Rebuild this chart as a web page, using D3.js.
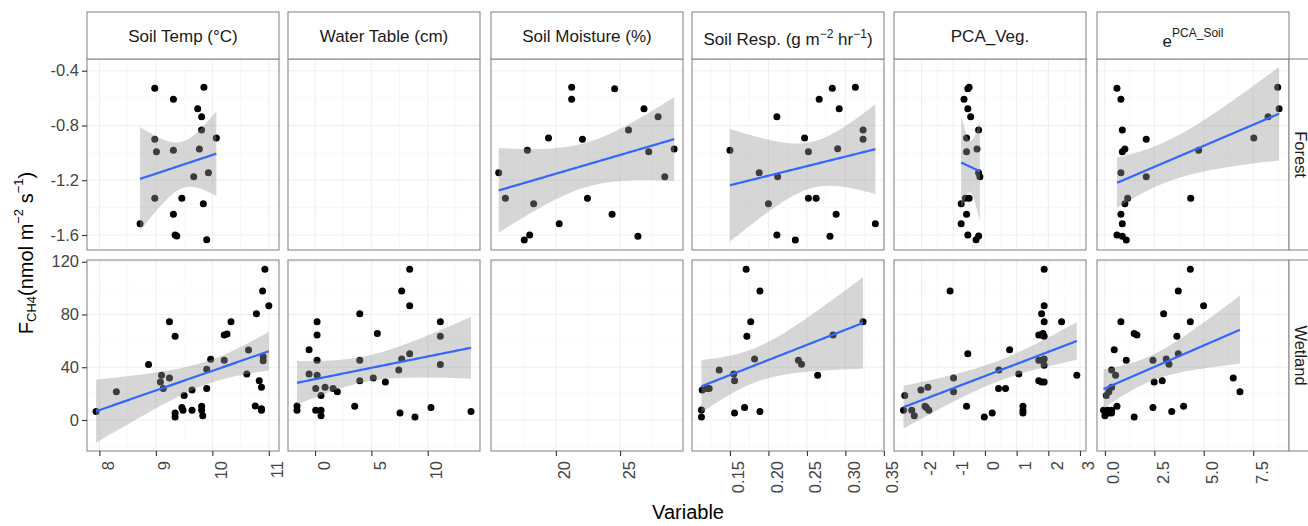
<!DOCTYPE html>
<html>
<head>
<meta charset="utf-8">
<title>CH4 flux by variable</title>
<script src="https://d3js.org/d3.v7.min.js"></script>
<style>
  body { margin: 0; background: #fff; }
  text { font-family: Arial, "Liberation Sans", sans-serif; }
</style>
</head>
<body>
<div id="chart"></div>
<script>

// ---- data: [x, F_CH4] ----
var forestSoilTemp = [[8.98,-0.529],[9.85,-0.521],[9.31,-0.609],[9.74,-0.678],[9.81,-0.736],[9.81,-0.833],[10.07,-0.892],[8.98,-0.901],[9.01,-0.992],[9.31,-0.981],[9.77,-0.972],[9.67,-1.174],[9.93,-1.145],[8.98,-1.332],[9.46,-1.332],[9.84,-1.371],[9.31,-1.449],[8.72,-1.518],[9.34,-1.600],[9.37,-1.607],[9.90,-1.634]];
var forestSoilMoisture = [[21.23,-0.521],[21.23,-0.609],[24.58,-0.531],[26.86,-0.678],[27.96,-0.736],[25.66,-0.833],[19.43,-0.892],[22.07,-0.901],[17.78,-0.981],[27.23,-0.992],[29.21,-0.972],[15.55,-1.145],[28.48,-1.174],[16.07,-1.332],[18.27,-1.371],[22.46,-1.332],[20.26,-1.518],[24.38,-1.449],[17.96,-1.600],[17.54,-1.637],[26.39,-1.610]];
var forestSoilResp = [[0.283,-0.529],[0.313,-0.521],[0.266,-0.609],[0.292,-0.678],[0.211,-0.736],[0.323,-0.833],[0.323,-0.901],[0.247,-0.892],[0.252,-0.992],[0.290,-0.970],[0.150,-0.981],[0.188,-1.145],[0.212,-1.174],[0.200,-1.371],[0.252,-1.332],[0.262,-1.332],[0.288,-1.449],[0.339,-1.518],[0.211,-1.600],[0.235,-1.637],[0.280,-1.610]];
var forestPcaVeg = [[-0.50,-0.521],[-0.54,-0.531],[-0.66,-0.609],[-0.54,-0.678],[-0.45,-0.736],[-0.20,-0.833],[-0.58,-0.892],[-0.58,-0.992],[-0.25,-0.972],[-0.20,-1.145],[-0.16,-1.174],[-0.62,-1.332],[-0.50,-1.332],[-0.75,-1.371],[-0.58,-1.449],[-0.75,-1.518],[-0.54,-1.600],[-0.28,-1.634],[-0.20,-1.607]];
var forestPcaSoil = [[0.61,-0.529],[0.81,-0.609],[8.74,-0.521],[8.81,-0.678],[8.25,-0.736],[0.88,-0.833],[2.09,-0.901],[7.53,-0.892],[1.01,-0.972],[0.88,-0.992],[4.74,-0.981],[0.81,-1.145],[2.09,-1.174],[1.15,-1.332],[1.01,-1.371],[4.34,-1.332],[0.81,-1.449],[0.88,-1.518],[0.61,-1.600],[0.88,-1.610],[1.08,-1.637]];

var wetlandSoilTemp = [[10.93,114.2],[10.89,97.8],[11.0,86.7],[10.78,80.6],[9.24,74.5],[10.33,74.5],[9.34,63.5],[10.21,64.5],[10.26,65.2],[8.87,42.0],[10.64,53.1],[9.97,46.1],[10.21,45.3],[10.90,48.0],[10.90,45.0],[9.10,33.9],[9.24,31.9],[9.08,28.9],[9.90,38.5],[9.13,23.8],[10.61,34.9],[10.83,29.8],[10.87,24.8],[8.30,21.5],[9.64,22.8],[9.90,23.8],[9.50,18.5],[7.94,6.4],[9.46,9.4],[9.48,7.4],[9.64,7.4],[9.81,10.5],[9.81,7.4],[9.83,3.3],[9.34,5.4],[9.34,2.3],[10.76,10.7],[10.87,8.6],[10.87,7.4]];
var wetlandWaterTable = [[8.40,114.2],[7.69,97.8],[8.40,86.7],[3.97,80.6],[0.18,74.5],[11.12,74.5],[0.18,64.5],[5.53,65.5],[11.12,63.5],[-0.53,53.3],[0.18,45.3],[3.97,45.3],[7.69,46.3],[8.40,50.3],[11.12,42.0],[-0.53,34.9],[0.18,33.9],[7.43,38.0],[3.97,29.8],[5.17,31.9],[6.24,28.9],[0.06,23.8],[0.89,24.8],[1.60,23.8],[1.98,21.5],[0.53,18.5],[-1.60,10.7],[-1.60,7.4],[0.06,7.4],[0.53,7.4],[0.53,3.3],[3.52,10.5],[7.54,5.4],[8.87,2.3],[10.29,9.4],[13.84,6.4]];
var wetlandSoilResp = [[0.171,114.2],[0.189,97.8],[0.177,74.5],[0.172,63.5],[0.323,74.5],[0.284,64.5],[0.182,46.3],[0.239,45.3],[0.243,42.3],[0.136,38.0],[0.155,34.9],[0.156,29.8],[0.264,33.9],[0.114,22.8],[0.120,23.8],[0.123,23.8],[0.113,7.6],[0.113,2.3],[0.169,9.4],[0.156,5.4],[0.189,6.4]];
var wetlandPcaVeg = [[1.87,114.2],[-1.10,97.8],[1.87,86.7],[1.79,80.6],[1.87,74.5],[2.42,74.5],[1.70,64.5],[1.79,64.5],[1.87,63.5],[1.83,65.5],[0.78,53.3],[-0.54,50.3],[1.70,45.3],[1.79,45.3],[1.87,46.3],[1.87,41.5],[0.44,38.0],[1.07,34.9],[2.90,33.9],[-0.99,31.9],[-0.99,21.5],[1.70,29.8],[1.79,28.8],[1.87,28.8],[0.43,23.8],[0.65,23.8],[-1.80,24.8],[-2.02,22.8],[-2.53,18.5],[-0.58,10.5],[1.20,10.5],[1.20,7.4],[1.20,5.4],[0.23,5.4],[-0.02,2.3],[-2.57,7.4],[-2.31,7.4],[-2.23,3.3],[-1.89,10.5],[-1.77,7.4],[-1.85,9.4]];
var wetlandPcaSoil = [[4.32,114.2],[3.71,97.8],[4.99,86.7],[2.97,80.6],[4.32,74.5],[0.81,74.5],[1.48,65.5],[1.62,64.5],[3.64,63.5],[0.47,53.3],[1.08,45.3],[2.43,45.3],[3.10,46.3],[3.24,42.3],[3.71,50.3],[0.34,38.0],[0.54,34.0],[6.49,31.9],[2.49,28.9],[2.90,29.8],[6.83,21.5],[0.34,24.8],[0.20,21.5],[0.07,18.5],[0.61,10.5],[0.34,7.4],[0.14,7.4],[-0.07,7.4],[0.00,3.3],[0.34,5.4],[0.20,5.4],[1.48,2.3],[2.43,9.4],[3.38,6.4],[3.98,10.5]];

// facet layout: rows = site, columns = variable (null = no data)
var sites = ["Forest", "Wetland"];
var panelData = [
  [forestSoilTemp, null, forestSoilMoisture, forestSoilResp, forestPcaVeg, forestPcaSoil],
  [wetlandSoilTemp, wetlandWaterTable, null, wetlandSoilResp, wetlandPcaVeg, wetlandPcaSoil]
];

// strip labels as text pieces (sup = superscript)
var stripLabels = [
  [{t: "Soil Temp (°C)"}],
  [{t: "Water Table (cm)"}],
  [{t: "Soil Moisture (%)"}],
  [{t: "Soil Resp. (g m"}, {t: "\u22122", sup: 1}, {t: " hr"}, {t: "\u22121", sup: 1}, {t: ")"}],
  [{t: "PCA_Veg."}],
  [{t: "e"}, {t: "PCA_Soil", sup: 1}]
];

var xTicks = [[8, 9, 10, 11], [0, 5, 10], [20, 25], [0.15, 0.20, 0.25, 0.30, 0.35], [-2, -1, 0, 1, 2, 3], [0, 2.5, 5, 7.5]];
var xTickLabels = [["8", "9", "10", "11"], ["0", "5", "10"], ["20", "25"], ["0.15", "0.20", "0.25", "0.30", "0.35"], ["-2", "-1", "0", "1", "2", "3"], ["0.0", "2.5", "5.0", "7.5"]];
var yTicks = [[-0.4, -0.8, -1.2, -1.6], [0, 40, 80, 120]];
var yTickLabels = [["-0.4", "-0.8", "-1.2", "-1.6"], ["0", "40", "80", "120"]];

// scale ranges as shown in the figure
var xDomains = [[7.78, 11.18], [-2.4, 14.64], [14.95, 29.9], [0.1007, 0.3502], [-2.87, 3.19], [-0.40, 9.31]];
var yDomains = [[-1.7096, -0.3145], [-23.5, 121.3]];

// ---- layout ----
var W = 1308, H = 526;
var colLeft = [87, 288, 491, 692, 894, 1097];
var panelW = 192;
var rowTop = [59, 260];
var panelH = 191;
var stripTop = 12;

var svg = d3.select("#chart").append("svg")
  .attr("width", W).attr("height", H);

var borderCol = "#8a8a8a";

// t quantile (0.975), Cornish-Fisher expansion
function tq(df) {
  var z = 1.959964;
  var g1 = (Math.pow(z, 3) + z) / 4;
  var g2 = (5 * Math.pow(z, 5) + 16 * Math.pow(z, 3) + 3 * z) / 96;
  var g3 = (3 * Math.pow(z, 7) + 19 * Math.pow(z, 5) + 17 * Math.pow(z, 3) - 15 * z) / 384;
  return z + g1 / df + g2 / (df * df) + g3 / (df * df * df);
}

// lm fit with 95% confidence band, like geom_smooth(method = "lm")
function lmBand(pts) {
  var n = pts.length;
  var mx = d3.mean(pts, function(d) { return d[0]; });
  var my = d3.mean(pts, function(d) { return d[1]; });
  var sxx = 0, sxy = 0;
  pts.forEach(function(d) { sxx += (d[0] - mx) * (d[0] - mx); sxy += (d[0] - mx) * (d[1] - my); });
  var b = sxy / sxx, a = my - b * mx;
  var sse = 0;
  pts.forEach(function(d) { var r = d[1] - a - b * d[0]; sse += r * r; });
  var s = Math.sqrt(sse / (n - 2));
  var t = tq(n - 2);
  var ext = d3.extent(pts, function(d) { return d[0]; });
  return d3.range(80).map(function(i) {
    var x = ext[0] + i * (ext[1] - ext[0]) / 79;
    var f = a + b * x;
    var se = s * Math.sqrt(1 / n + (x - mx) * (x - mx) / sxx);
    return {x: x, fit: f, lo: f - t * se, hi: f + t * se};
  });
}

function minorBreaks(major, dom) {
  var step = major[1] - major[0];
  var out = [];
  for (var i = -1; i < major.length; i++) {
    var m = major[0] + (i + 0.5) * step;
    if (m > dom[0] && m < dom[1]) out.push(m);
  }
  return out;
}

// add text pieces with superscripts into a <text>
function richText(sel, pieces, fs, supFs, raise) {
  var shift = 0;
  pieces.forEach(function(p) {
    var want = p.sup ? -raise : 0;
    sel.append("tspan")
      .attr("dy", want - shift)
      .style("font-size", (p.sup ? supFs : fs) + "px")
      .text(p.t);
    shift = want;
  });
}

var xScales = xDomains.map(function(dom, c) {
  return d3.scaleLinear().domain(dom).range([colLeft[c], colLeft[c] + panelW]);
});
var yScales = yDomains.map(function(dom, r) {
  return d3.scaleLinear().domain(dom).range([rowTop[r] + panelH, rowTop[r]]);
});

// ---- panels ----
panelData.forEach(function(rowData, r) {
  rowData.forEach(function(pts, c) {
    var x = xScales[c], y = yScales[r];
    var g = svg.append("g");
    g.append("rect")
      .attr("x", colLeft[c]).attr("y", rowTop[r])
      .attr("width", panelW).attr("height", panelH)
      .attr("fill", "#fff");

    // grid
    minorBreaks(xTicks[c], xDomains[c]).forEach(function(v) {
      g.append("line").attr("x1", x(v)).attr("x2", x(v))
        .attr("y1", rowTop[r]).attr("y2", rowTop[r] + panelH)
        .attr("stroke", "#f5f5f5").attr("stroke-width", 0.7);
    });
    minorBreaks(yTicks[r].slice().sort(d3.ascending), yDomains[r]).forEach(function(v) {
      g.append("line").attr("y1", y(v)).attr("y2", y(v))
        .attr("x1", colLeft[c]).attr("x2", colLeft[c] + panelW)
        .attr("stroke", "#f5f5f5").attr("stroke-width", 0.7);
    });
    xTicks[c].forEach(function(v) {
      g.append("line").attr("x1", x(v)).attr("x2", x(v))
        .attr("y1", rowTop[r]).attr("y2", rowTop[r] + panelH)
        .attr("stroke", "#efefef").attr("stroke-width", 1.1);
    });
    yTicks[r].forEach(function(v) {
      g.append("line").attr("y1", y(v)).attr("y2", y(v))
        .attr("x1", colLeft[c]).attr("x2", colLeft[c] + panelW)
        .attr("stroke", "#efefef").attr("stroke-width", 1.1);
    });

    if (pts) {
      g.selectAll("circle").data(pts).enter().append("circle")
        .attr("cx", function(d) { return x(d[0]); })
        .attr("cy", function(d) { return y(d[1]); })
        .attr("r", 3.5)
        .attr("fill", "#000");

      var band = lmBand(pts);
      g.append("path").datum(band)
        .attr("d", d3.area()
          .x(function(d) { return x(d.x); })
          .y0(function(d) { return y(d.lo); })
          .y1(function(d) { return y(d.hi); }))
        .attr("fill", "#999999").attr("fill-opacity", 0.4);
      g.append("path").datum(band)
        .attr("d", d3.line()
          .x(function(d) { return x(d.x); })
          .y(function(d) { return y(d.fit); }))
        .attr("fill", "none").attr("stroke", "#3366FF").attr("stroke-width", 2.2);
    }

    g.append("rect")
      .attr("x", colLeft[c]).attr("y", rowTop[r])
      .attr("width", panelW).attr("height", panelH)
      .attr("fill", "none").attr("stroke", borderCol).attr("stroke-width", 1.1);
  });
});

// ---- strips ----
stripLabels.forEach(function(pieces, c) {
  svg.append("rect")
    .attr("x", colLeft[c]).attr("y", stripTop)
    .attr("width", panelW).attr("height", rowTop[0] - stripTop)
    .attr("fill", "#fff").attr("stroke", borderCol).attr("stroke-width", 1.1);
  var hasSup = pieces.some(function(p) { return p.sup; });
  var t = svg.append("text")
    .attr("x", colLeft[c] + panelW / 2)
    .attr("y", c === 5 ? 46.5 : (hasSup ? 44.5 : 41.5))
    .attr("text-anchor", "middle")
    .attr("fill", "#1a1a1a");
  richText(t, pieces, 17, 12, c === 5 ? 10 : 6.5);
});

sites.forEach(function(s, r) {
  svg.append("rect")
    .attr("x", colLeft[5] + panelW).attr("y", rowTop[r])
    .attr("width", 26).attr("height", panelH)
    .attr("fill", "#fff").attr("stroke", borderCol).attr("stroke-width", 1.1);
  svg.append("text")
    .attr("transform", "translate(1294.5," + (rowTop[r] + panelH / 2) + ") rotate(90)")
    .attr("text-anchor", "middle")
    .attr("fill", "#1a1a1a")
    .style("font-size", "16.5px")
    .text(s);
});

// ---- axes ----
yScales.forEach(function(y, r) {
  var ax = svg.append("g")
    .attr("transform", "translate(" + colLeft[0] + ",0)")
    .call(d3.axisLeft(y).tickValues(yTicks[r])
      .tickFormat(function(d, i) { return yTickLabels[r][i]; })
      .tickSize(5).tickPadding(3));
  ax.select(".domain").remove();
  ax.selectAll("line").attr("stroke", "#333").attr("stroke-width", 1.1);
  ax.selectAll("text").attr("fill", "#444")
    .style("font-size", "16.5px").style("font-family", "Arial, 'Liberation Sans', sans-serif");
});

xScales.forEach(function(x, c) {
  var ax = svg.append("g")
    .attr("transform", "translate(0," + (rowTop[1] + panelH) + ")")
    .call(d3.axisBottom(x).tickValues(xTicks[c])
      .tickFormat(function(d, i) { return xTickLabels[c][i]; })
      .tickSize(5));
  ax.select(".domain").remove();
  ax.selectAll("line").attr("stroke", "#333").attr("stroke-width", 1.1);
  ax.selectAll("text")
    .attr("x", null).attr("y", null).attr("dy", null)
    .attr("transform", "translate(14,10) rotate(-90)")
    .attr("text-anchor", "end")
    .attr("fill", "#444")
    .style("font-size", "16.5px").style("font-family", "Arial, 'Liberation Sans', sans-serif");
});

// ---- axis titles ----
svg.append("text")
  .attr("x", (colLeft[0] + colLeft[5] + panelW) / 2)
  .attr("y", 519)
  .attr("text-anchor", "middle")
  .style("font-size", "20px")
  .attr("fill", "#000")
  .text("Variable");

var yt = svg.append("text")
  .attr("transform", "translate(33,253) rotate(-90)")
  .attr("text-anchor", "middle")
  .attr("fill", "#000")
  .style("font-size", "20px");
yt.append("tspan").text("F");
yt.append("tspan").attr("dy", 3).style("font-size", "13px").text("CH4");
yt.append("tspan").attr("dy", -3).text("(nmol m");
yt.append("tspan").attr("dy", -10).style("font-size", "13px").text("\u22122");
yt.append("tspan").attr("dy", 10).text(" s");
yt.append("tspan").attr("dy", -10).style("font-size", "13px").text("\u22121");
yt.append("tspan").attr("dy", 10).text(")");

</script>
</body>
</html>
